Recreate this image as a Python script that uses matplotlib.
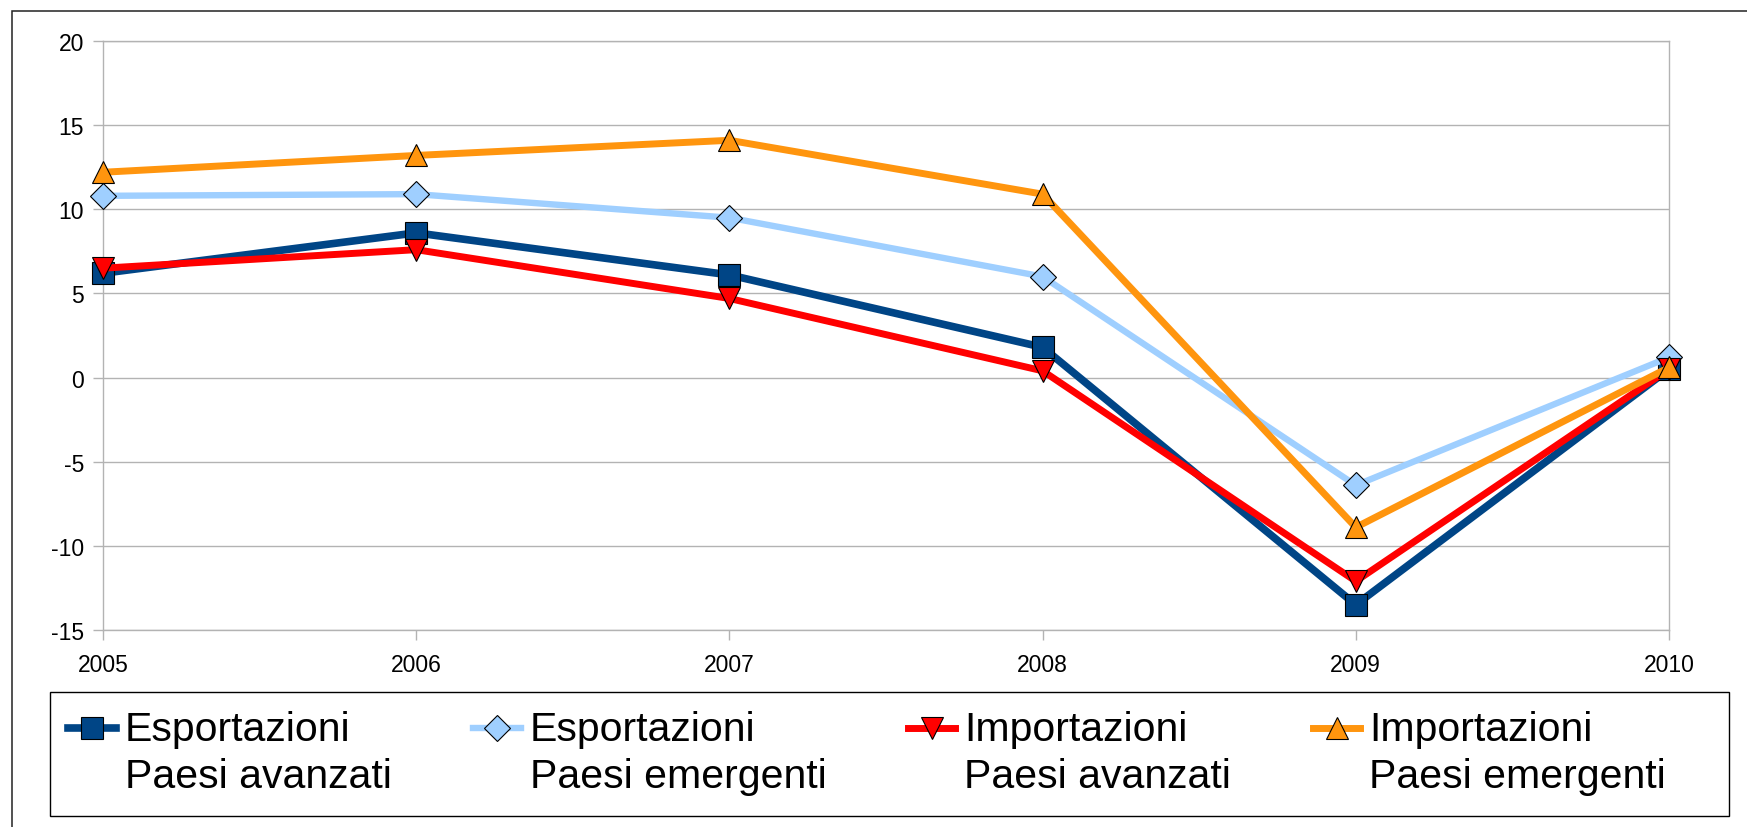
import numpy as np
import matplotlib
matplotlib.use('Agg')
import matplotlib.pyplot as plt
from matplotlib.patches import Rectangle
from matplotlib.legend_handler import HandlerLine2D

plt.rcParams['font.family'] = ['Liberation Sans', 'DejaVu Sans']
plt.rcParams['axes.unicode_minus'] = False

# data (annual % change)
years = [2005, 2006, 2007, 2008, 2009, 2010]
esp_avanzati = [6.2, 8.6, 6.1, 1.8, -13.5, 0.5]
esp_emergenti = [10.8, 10.9, 9.5, 6.0, -6.4, 1.2]
imp_avanzati = [6.5, 7.6, 4.7, 0.4, -12.1, 0.5]
imp_emergenti = [12.2, 13.2, 14.1, 10.9, -8.9, 0.6]

labels = ['Esportazioni\nPaesi avanzati', 'Esportazioni\nPaesi emergenti',
          'Importazioni\nPaesi avanzati', 'Importazioni\nPaesi emergenti']
y_ticks = [-15, -10, -5, 0, 5, 10, 15, 20]

LEG_FS = 29.5
HANDLE_LIFT = 18  # points, moves the key up to the first label line


class FirstLineHandler(HandlerLine2D):
    # put the legend key next to the first line of a two-line label
    def create_artists(self, legend, orig_handle, xdescent, ydescent,
                       width, height, fontsize, trans):
        return super().create_artists(legend, orig_handle, xdescent,
                                      ydescent - 2 * HANDLE_LIFT, width, height,
                                      fontsize, trans)


W, H = 1747, 828
fig = plt.figure(figsize=(W / 100, H / 100), dpi=100)
ax = fig.add_axes([103 / W, 1 - 631 / H, (1669 - 103) / W, (631 - 42) / H])

grey = '#b3b3b3'
series = [
    (esp_avanzati, '#004586', 's', 15.5, 5.5),
    (esp_emergenti, '#9fcfff', 'D', 13.5, 4.6),
    (imp_avanzati, '#ff0000', 'v', 16, 5.0),
    (imp_emergenti, '#ff950e', '^', 16, 5.0),
]
for (vals, col, mk, ms, lw), lab in zip(series, labels):
    ax.plot(years, vals, color=col, lw=lw, marker=mk, ms=ms,
            markerfacecolor=col, markeredgecolor='black', markeredgewidth=0.8,
            label=lab, clip_on=False, zorder=3)

ax.set_xlim(2005, 2010)
ax.set_ylim(-15, 20)
ax.set_xticks(years)
ax.set_yticks(y_ticks)
ax.grid(axis='y', color=grey, lw=1.0)
ax.grid(axis='x', visible=False)
for sp in ax.spines.values():
    sp.set_color(grey)
    sp.set_linewidth(1.0)
ax.tick_params(axis='both', color=grey, length=7.5, width=1.0, labelsize=16.5)
ax.tick_params(axis='y', pad=6)
ax.tick_params(axis='x', pad=9)

# legend box drawn on its own, entries laid out inside it
fig.patches.append(Rectangle((50 / W, 1 - 817 / H), (1729 - 50) / W, (817 - 693) / H,
                             transform=fig.transFigure, facecolor='white',
                             edgecolor='black', lw=1.0))
leg = fig.legend(loc='upper left', ncol=4, bbox_to_anchor=(50 / W, 1 - 693 / H),
                 fontsize=LEG_FS, frameon=False, handlelength=1.15,
                 handletextpad=0.22, borderpad=0.45, columnspacing=2.0,
                 borderaxespad=0, handler_map={plt.Line2D: FirstLineHandler()})
for t in leg.get_texts():
    t.set_linespacing(1.27)

# outer chart frame
fig.patches.append(Rectangle((12 / W, -0.2), 1.2, 1.2 - 12 / H, transform=fig.transFigure,
                             fill=False, edgecolor='#222222', lw=1.1))

fig.savefig('out.png', dpi=100)
